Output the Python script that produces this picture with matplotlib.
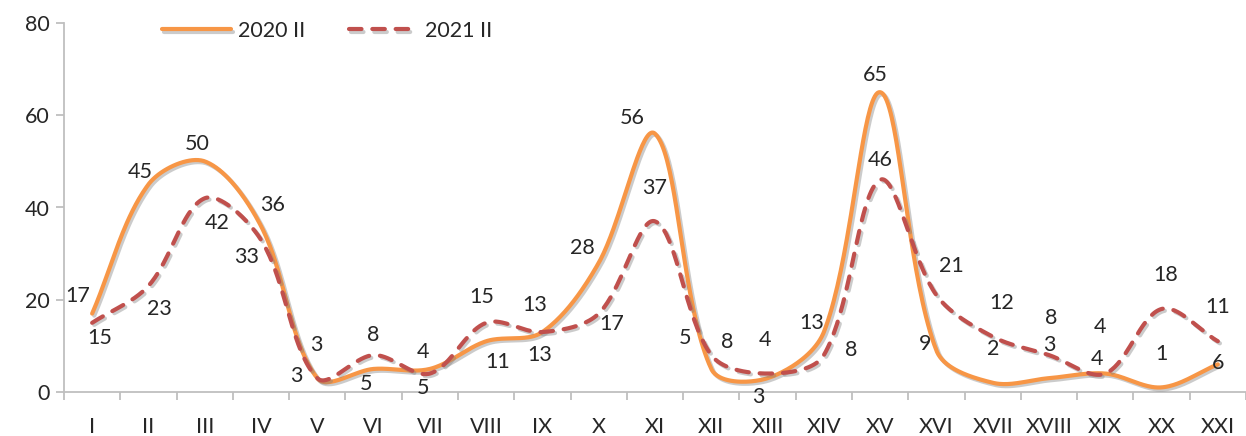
import numpy as np
import matplotlib
matplotlib.use("Agg")
import matplotlib.pyplot as plt
import matplotlib.patheffects as pe
from matplotlib.ticker import FixedLocator, NullFormatter

categories = ["I", "II", "III", "IV", "V", "VI", "VII", "VIII", "IX", "X", "XI",
              "XII", "XIII", "XIV", "XV", "XVI", "XVII", "XVIII", "XIX", "XX", "XXI"]
values_2020 = [17, 45, 50, 36, 3, 5, 5, 11, 13, 28, 56, 5, 3, 13, 65, 9, 2, 3, 4, 1, 6]
values_2021 = [15, 23, 42, 33, 3, 8, 4, 15, 13, 17, 37, 8, 4, 8, 46, 21, 12, 8, 4, 18, 11]
series_names = ["2020 II", "2021 II"]
y_ticks = [0, 20, 40, 60, 80]

# label offsets in pixels (style only)
off_2020 = [(-14, 18), (-8, 12), (-7, 17), (12, 21), (-21, 2), (-8, -15), (-7, -19),
            (12, -21), (-3, -23), (-16, 15), (-23, 16), (-26, 31), (-9, -19), (-12, 9),
            (-5, 17), (-11, 6), (0, 34), (0, 33), (-8, 15), (0, 33), (0, 1)]
off_2021 = [(8, -15), (11, -23), (12, -25), (-14, -17), (-1, 33), (0, 20), (-7, 22),
            (-4, 26), (-8, 27), (13, -10), (0, 33), (16, 13), (-3, 34), (27, 5),
            (0, 20), (15, 29), (9, 34), (2, 37), (-5, 47), (4, 34), (0, 34)]

ORANGE = "#F79646"
RED = "#C0504D"
TXT = "#262626"
AX = "#BFBFBF"
FONT = "Lato"
FS = 15.5

fig = plt.figure(figsize=(12.46, 4.36), dpi=100)
ax = fig.add_axes([64 / 1246, 44 / 436, 1 - 64 / 1246, (392 - 23) / 436])
ax.set_xlim(-0.5, len(categories) - 0.5)
ax.set_ylim(0, 80)


def smooth(xs, ys, n=40):
    # chord-length weighted Bezier smoothing (Excel-like), computed in display space
    P = ax.transData.transform(np.column_stack([xs, ys]).astype(float))
    m = len(P)
    out = []
    for i in range(m - 1):
        p0 = P[i - 1] if i > 0 else P[i]
        p1 = P[i]
        p2 = P[i + 1]
        p3 = P[i + 2] if i + 2 < m else P[i + 1]
        d01 = np.linalg.norm(p1 - p0)
        d12 = np.linalg.norm(p2 - p1)
        d23 = np.linalg.norm(p3 - p2)
        f1 = d12 / (d01 + d12) if d01 + d12 > 0 else 0
        f2 = d12 / (d12 + d23) if d12 + d23 > 0 else 0
        c1 = p1 + (p2 - p0) * f1 / 3.0
        c2 = p2 - (p3 - p1) * f2 / 3.0
        t = np.linspace(0, 1, n, endpoint=(i == m - 2))[:, None]
        seg = ((1 - t) ** 3) * p1 + 3 * ((1 - t) ** 2) * t * c1 + 3 * (1 - t) * t ** 2 * c2 + t ** 3 * p2
        out.append(seg)
    arr = ax.transData.inverted().transform(np.vstack(out))
    return arr[:, 0], arr[:, 1]


x = np.arange(len(categories))
shadow = [pe.SimpleLineShadow(offset=(1.5, -1.5), shadow_color="#7f7f7f", alpha=0.4), pe.Normal()]

sx, sy = smooth(x, values_2020)
ax.plot(sx, sy, color=ORANGE, lw=3.0, solid_capstyle="round", label=series_names[0],
        path_effects=shadow, zorder=3)
sx2, sy2 = smooth(x, values_2021)
ax.plot(sx2, sy2, color=RED, lw=3.0, dashes=(3.0, 2.6), dash_capstyle="round",
        label=series_names[1], path_effects=shadow, zorder=4)

for xi, v, o in zip(x, values_2020, off_2020):
    ax.annotate(str(v), (xi, v), xytext=o, textcoords="offset pixels", ha="center",
                va="center", fontsize=FS, family=FONT, color=TXT, zorder=6)
for xi, v, o in zip(x, values_2021, off_2021):
    ax.annotate(str(v), (xi, v), xytext=o, textcoords="offset pixels", ha="center",
                va="center", fontsize=FS, family=FONT, color=TXT, zorder=6)

ax.set_yticks(y_ticks)
ax.set_yticklabels([str(t) for t in y_ticks], fontsize=FS, family=FONT, color=TXT)
ax.set_xticks(x)
ax.set_xticklabels(categories, fontsize=FS, family=FONT, color=TXT)
ax.xaxis.set_minor_locator(FixedLocator(np.arange(-0.5, len(categories) + 0.5, 1)))
ax.xaxis.set_minor_formatter(NullFormatter())
ax.tick_params(axis="x", which="major", length=0, pad=18)
ax.tick_params(axis="x", which="minor", length=6, width=1.3, color=AX)
ax.tick_params(axis="y", which="major", length=6, width=1.3, color=AX, pad=4)

for s in ["top", "right"]:
    ax.spines[s].set_visible(False)
for s in ["left", "bottom"]:
    ax.spines[s].set_color(AX)
    ax.spines[s].set_linewidth(1.3)

leg = fig.legend(loc="center left", bbox_to_anchor=(162 / 1246, 405 / 436), ncol=2,
                 frameon=False, borderpad=0, borderaxespad=0, handlelength=3.2,
                 handletextpad=0.35, columnspacing=2.0,
                 prop={"family": FONT, "size": FS})
for t in leg.get_texts():
    t.set_color(TXT)

fig.savefig("out.png", dpi=100)
